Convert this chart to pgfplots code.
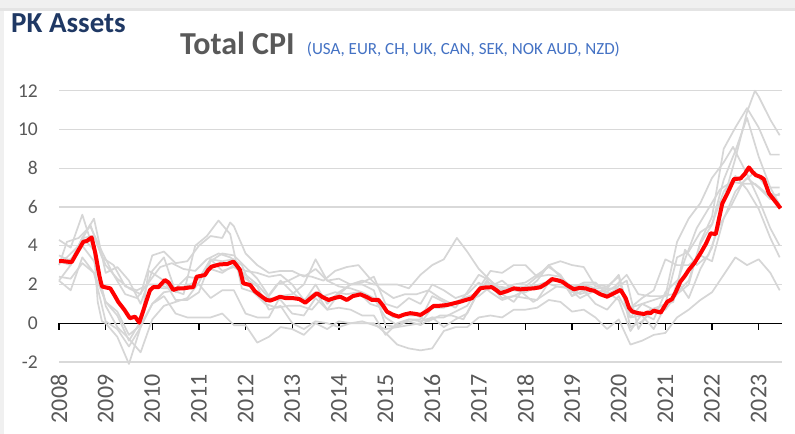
\documentclass[border=0pt]{standalone}
\usepackage{pgfplots}
\pgfplotsset{compat=1.18}
\usepackage{fontspec}
\setmainfont{Carlito}
\definecolor{gridgray}{RGB}{217,217,217}
\definecolor{linegray}{RGB}{214,214,214}
\definecolor{tickgray}{RGB}{89,89,89}
\definecolor{subblue}{RGB}{68,114,196}
\definecolor{navy}{RGB}{31,56,100}
\definecolor{bandgray}{RGB}{240,240,240}
\definecolor{bandline}{RGB}{228,228,228}
\begin{document}
\begin{tikzpicture}
\useasboundingbox (0bp,0bp) rectangle (795bp,434bp);
\fill[white] (0bp,0bp) rectangle (795bp,434bp);
\fill[bandgray] (0bp,426bp) rectangle (795bp,434bp);
\fill[bandline] (0bp,423bp) rectangle (795bp,426bp);
\fill[bandgray] (0bp,0bp) rectangle (4bp,423bp);
\node[anchor=base west, inner sep=0pt, text=navy, font=\fontsize{29bp}{32bp}\selectfont\bfseries] at (11bp,401bp) {PK Assets};
\node[anchor=base west, inner sep=0pt, text=tickgray, font=\fontsize{32bp}{36bp}\selectfont\bfseries] at (180bp,379.7bp) {Total CPI};
\node[anchor=base west, inner sep=0pt, text=subblue, font=\fontsize{17bp}{20bp}\selectfont] at (306.7bp,379.7bp) {(USA, EUR, CH, UK, CAN, SEK, NOK AUD, NZD)};
\begin{axis}[
  at={(59bp,72bp)}, anchor=south west,
  scale only axis, width=723bp, height=271.3bp,
  xmin=2008, xmax=2023.5, ymin=-2, ymax=12,
  axis line style={draw=none},
  major tick length=0pt,
  xtick={2008,2009,2010,2011,2012,2013,2014,2015,2016,2017,2018,2019,2020,2021,2022,2023},
  ytick={-2,0,2,4,6,8,10,12},
  ymajorgrids,
  grid style={color=gridgray, line width=1.3bp},
  /pgf/number format/assume math mode=true,
  /pgf/number format/1000 sep={},
  xticklabel style={rotate=90, anchor=east, text=tickgray, font=\fontsize{24bp}{28bp}\selectfont},
  yticklabel style={anchor=east, inner sep=0pt, text=tickgray, font=\fontsize{19.5bp}{23bp}\selectfont},
  xticklabel shift=9bp,
  yticklabel shift=21bp,
  clip=false,
  every axis plot/.append style={line join=round},
]
\draw[black, line width=1.3bp] (axis cs:2008,0) -- (axis cs:2023.5,0);
\pgfplotsinvokeforeach{2008,2009,2010,2011,2012,2013,2014,2015,2016,2017,2018,2019,2020,2021,2022,2023}{
  \draw[black, line width=1.3bp] (axis cs:#1,0) -- (axis cs:#1,-0.34);
}
% USA
\addplot[linegray, line width=1.7bp] coordinates {
(2008.0,4.3)(2008.25,3.9)(2008.5,5.6)(2008.75,3.7)(2008.83,1.1)(2008.92,0.1)
(2009.0,0.0)(2009.25,-0.7)(2009.5,-2.1)(2009.75,-0.2)(2009.92,2.7)
(2010.0,2.6)(2010.25,2.2)(2010.5,1.2)(2010.75,1.2)
(2011.0,1.6)(2011.25,3.2)(2011.5,3.6)(2011.75,3.5)
(2012.0,2.9)(2012.25,2.3)(2012.5,1.4)(2012.75,2.2)
(2013.0,1.6)(2013.25,1.1)(2013.5,2.0)(2013.75,1.0)
(2014.0,1.6)(2014.25,2.0)(2014.5,2.0)(2014.75,1.7)
(2015.0,-0.1)(2015.25,-0.2)(2015.5,0.2)(2015.75,0.2)
(2016.0,1.4)(2016.25,1.1)(2016.5,0.8)(2016.75,1.6)
(2017.0,2.5)(2017.25,2.2)(2017.5,1.7)(2017.75,2.0)
(2018.0,2.1)(2018.25,2.5)(2018.5,2.9)(2018.75,2.5)
(2019.0,1.6)(2019.25,2.0)(2019.5,1.8)(2019.75,1.8)
(2020.0,2.5)(2020.25,0.3)(2020.5,1.0)(2020.75,1.2)
(2021.0,1.4)(2021.25,4.2)(2021.5,5.4)(2021.75,6.2)
(2022.0,7.5)(2022.25,8.3)(2022.45,9.1)(2022.75,7.7)
(2023.0,6.4)(2023.25,4.9)(2023.45,4.0)};
% EUR
\addplot[linegray, line width=1.7bp] coordinates {
(2008.0,3.2)(2008.25,3.3)(2008.5,4.0)(2008.75,3.2)
(2009.0,1.1)(2009.25,0.6)(2009.5,-0.6)(2009.75,-0.1)
(2010.0,1.0)(2010.25,1.6)(2010.5,1.7)(2010.75,1.9)
(2011.0,2.3)(2011.25,2.8)(2011.5,2.6)(2011.75,3.0)
(2012.0,2.7)(2012.25,2.6)(2012.5,2.4)(2012.75,2.5)
(2013.0,2.0)(2013.25,1.2)(2013.5,1.6)(2013.75,0.7)
(2014.0,0.8)(2014.25,0.7)(2014.5,0.4)(2014.75,0.4)
(2015.0,-0.6)(2015.25,0.0)(2015.5,0.2)(2015.75,0.1)
(2016.0,0.3)(2016.25,-0.2)(2016.5,0.2)(2016.75,0.5)
(2017.0,1.7)(2017.25,1.9)(2017.5,1.3)(2017.75,1.4)
(2018.0,1.3)(2018.25,1.2)(2018.5,2.1)(2018.75,2.3)
(2019.0,1.4)(2019.25,1.7)(2019.5,1.0)(2019.75,0.7)
(2020.0,1.4)(2020.25,0.3)(2020.5,0.4)(2020.75,-0.3)
(2021.0,0.9)(2021.25,1.6)(2021.5,2.2)(2021.75,4.1)
(2022.0,5.1)(2022.25,7.4)(2022.5,8.9)(2022.75,10.6)
(2023.0,8.6)(2023.25,7.0)(2023.45,6.1)};
% CH
\addplot[linegray, line width=1.7bp] coordinates {
(2008.0,2.4)(2008.25,2.3)(2008.5,3.1)(2008.75,2.6)
(2009.0,0.1)(2009.25,-0.3)(2009.5,-1.2)(2009.75,-0.2)
(2010.0,1.0)(2010.25,1.4)(2010.5,0.5)(2010.75,0.3)
(2011.0,0.3)(2011.25,0.3)(2011.5,0.5)(2011.75,-0.1)
(2012.0,-0.1)(2012.25,-1.0)(2012.5,-0.7)(2012.75,-0.2)
(2013.0,-0.3)(2013.25,-0.6)(2013.5,0.0)(2013.75,-0.3)
(2014.0,0.1)(2014.25,0.0)(2014.5,0.0)(2014.75,0.0)
(2015.0,-0.5)(2015.25,-1.1)(2015.5,-1.3)(2015.75,-1.4)
(2016.0,-1.3)(2016.25,-0.4)(2016.5,-0.2)(2016.75,-0.2)
(2017.0,0.3)(2017.25,0.4)(2017.5,0.3)(2017.75,0.7)
(2018.0,0.7)(2018.25,0.8)(2018.5,1.2)(2018.75,1.1)
(2019.0,0.6)(2019.25,0.7)(2019.5,0.3)(2019.75,-0.3)
(2020.0,0.2)(2020.25,-1.1)(2020.5,-0.9)(2020.75,-0.6)
(2021.0,-0.5)(2021.25,0.3)(2021.5,0.7)(2021.75,1.2)
(2022.0,1.6)(2022.25,2.5)(2022.5,3.4)(2022.75,3.0)
(2023.0,3.3)(2023.25,2.6)(2023.45,1.7)};
% UK
\addplot[linegray, line width=1.7bp] coordinates {
(2008.0,2.2)(2008.25,3.0)(2008.5,4.4)(2008.75,4.5)
(2009.0,3.0)(2009.25,2.3)(2009.5,1.8)(2009.75,1.5)
(2010.0,3.5)(2010.25,3.7)(2010.5,3.1)(2010.75,3.2)
(2011.0,4.0)(2011.25,4.5)(2011.5,4.4)(2011.67,5.2)(2011.75,5.0)
(2012.0,3.6)(2012.25,3.0)(2012.5,2.6)(2012.75,2.7)
(2013.0,2.7)(2013.25,2.4)(2013.5,2.8)(2013.75,2.2)
(2014.0,1.9)(2014.25,1.8)(2014.5,1.6)(2014.75,1.3)
(2015.0,0.3)(2015.25,-0.1)(2015.5,0.1)(2015.75,-0.1)
(2016.0,0.3)(2016.25,0.3)(2016.5,0.6)(2016.75,0.9)
(2017.0,1.8)(2017.25,2.7)(2017.5,2.6)(2017.75,3.0)
(2018.0,3.0)(2018.25,2.4)(2018.5,2.5)(2018.75,2.4)
(2019.0,1.8)(2019.25,2.1)(2019.5,2.1)(2019.75,1.5)
(2020.0,1.8)(2020.25,0.8)(2020.5,1.0)(2020.75,0.7)
(2021.0,0.7)(2021.25,1.5)(2021.5,2.0)(2021.75,4.2)
(2022.0,5.5)(2022.25,9.0)(2022.5,10.1)(2022.75,11.1)
(2023.0,10.1)(2023.25,8.7)(2023.45,8.7)};
% CAN
\addplot[linegray, line width=1.7bp] coordinates {
(2008.0,2.2)(2008.25,1.7)(2008.5,3.4)(2008.75,2.6)
(2009.0,1.1)(2009.25,0.4)(2009.5,-0.9)(2009.75,0.1)
(2010.0,1.9)(2010.25,1.8)(2010.5,1.8)(2010.75,2.4)
(2011.0,2.3)(2011.25,3.3)(2011.5,2.7)(2011.75,2.9)
(2012.0,2.5)(2012.25,2.0)(2012.5,1.3)(2012.75,1.2)
(2013.0,0.5)(2013.25,0.4)(2013.5,1.3)(2013.75,0.7)
(2014.0,1.5)(2014.25,2.0)(2014.5,2.1)(2014.75,2.4)
(2015.0,1.0)(2015.25,0.8)(2015.5,1.3)(2015.75,1.0)
(2016.0,2.0)(2016.25,1.7)(2016.5,1.3)(2016.75,1.5)
(2017.0,2.1)(2017.25,1.6)(2017.5,1.2)(2017.75,1.4)
(2018.0,1.7)(2018.25,2.2)(2018.5,3.0)(2018.75,2.4)
(2019.0,1.4)(2019.25,2.0)(2019.5,2.0)(2019.75,1.9)
(2020.0,2.4)(2020.25,-0.2)(2020.5,0.1)(2020.75,0.7)
(2021.0,1.0)(2021.25,3.4)(2021.5,3.7)(2021.75,4.7)
(2022.0,5.1)(2022.25,6.8)(2022.5,7.6)(2022.75,6.9)
(2023.0,5.9)(2023.25,4.4)(2023.45,3.4)};
% SEK
\addplot[linegray, line width=1.7bp] coordinates {
(2008.0,3.5)(2008.25,3.2)(2008.5,4.4)(2008.75,3.8)
(2009.0,0.9)(2009.25,-0.2)(2009.5,-0.8)(2009.75,-1.5)
(2010.0,0.2)(2010.25,0.9)(2010.5,1.1)(2010.75,1.3)
(2011.0,2.1)(2011.25,3.3)(2011.5,3.2)(2011.75,3.3)
(2012.0,2.3)(2012.25,1.9)(2012.5,0.7)(2012.75,0.9)
(2013.0,0.0)(2013.25,-0.3)(2013.5,0.1)(2013.75,0.0)
(2014.0,-0.2)(2014.25,0.0)(2014.5,0.1)(2014.75,-0.1)
(2015.0,-0.3)(2015.25,-0.2)(2015.5,-0.1)(2015.75,0.0)
(2016.0,0.8)(2016.25,0.8)(2016.5,1.1)(2016.75,1.2)
(2017.0,1.4)(2017.25,1.9)(2017.5,2.2)(2017.75,1.7)
(2018.0,1.6)(2018.25,1.9)(2018.5,2.1)(2018.75,2.3)
(2019.0,1.9)(2019.25,2.0)(2019.5,1.7)(2019.75,1.6)
(2020.0,1.2)(2020.25,-0.4)(2020.5,0.5)(2020.75,0.2)
(2021.0,1.6)(2021.25,2.2)(2021.5,1.3)(2021.75,2.8)
(2022.0,3.9)(2022.25,6.4)(2022.5,8.5)(2022.75,10.9)(2022.92,12.0)
(2023.0,11.7)(2023.25,10.5)(2023.45,9.7)};
% NOK
\addplot[linegray, line width=1.7bp] coordinates {
(2008.0,3.2)(2008.25,3.0)(2008.5,4.4)(2008.75,5.4)
(2009.0,2.6)(2009.25,2.9)(2009.5,2.2)(2009.75,1.0)
(2010.0,2.7)(2010.25,3.4)(2010.5,1.6)(2010.75,2.0)
(2011.0,2.0)(2011.25,1.3)(2011.5,1.7)(2011.75,1.7)
(2012.0,0.5)(2012.25,0.3)(2012.5,0.3)(2012.75,1.4)
(2013.0,1.5)(2013.25,2.0)(2013.5,3.3)(2013.75,2.2)
(2014.0,2.3)(2014.25,2.0)(2014.5,2.2)(2014.75,2.0)
(2015.0,2.0)(2015.25,2.0)(2015.5,1.8)(2015.75,2.5)
(2016.0,3.0)(2016.25,3.3)(2016.53,4.4)(2016.75,3.7)
(2017.0,2.8)(2017.25,2.2)(2017.5,1.5)(2017.75,1.1)
(2018.0,1.9)(2018.25,2.4)(2018.5,3.0)(2018.75,3.2)
(2019.0,3.0)(2019.25,2.9)(2019.5,1.9)(2019.75,1.8)
(2020.0,1.8)(2020.25,0.8)(2020.5,1.3)(2020.75,1.7)
(2021.0,3.3)(2021.25,3.0)(2021.5,3.0)(2021.75,3.5)
(2022.0,3.2)(2022.25,5.4)(2022.5,6.8)(2022.75,7.5)
(2023.0,7.0)(2023.25,6.4)(2023.45,6.7)};
% AUD
\addplot[linegray, line width=1.7bp] coordinates {
(2008.0,3.0)(2008.17,4.2)(2008.42,4.4)(2008.67,5.0)(2008.92,3.7)
(2009.17,2.5)(2009.42,1.5)(2009.67,1.3)(2009.92,2.1)
(2010.17,2.9)(2010.42,3.1)(2010.67,2.8)(2010.92,2.7)
(2011.17,3.3)(2011.42,3.6)(2011.67,3.4)(2011.92,3.0)
(2012.17,1.6)(2012.42,1.2)(2012.67,2.0)(2012.92,2.2)
(2013.17,2.5)(2013.42,2.4)(2013.67,2.2)(2013.92,2.7)
(2014.17,2.9)(2014.42,3.0)(2014.67,2.3)(2014.92,1.7)
(2015.17,1.3)(2015.42,1.5)(2015.67,1.5)(2015.92,1.7)
(2016.17,1.3)(2016.42,1.0)(2016.67,1.3)(2016.92,1.5)
(2017.17,2.1)(2017.42,1.9)(2017.67,1.8)(2017.92,1.9)
(2018.17,1.9)(2018.42,2.1)(2018.67,1.9)(2018.92,1.8)
(2019.17,1.3)(2019.42,1.6)(2019.67,1.7)(2019.92,1.8)
(2020.17,2.2)(2020.42,-0.3)(2020.67,0.7)(2020.92,0.9)
(2021.17,1.1)(2021.42,3.8)(2021.67,3.0)(2021.92,3.5)
(2022.17,5.1)(2022.42,6.1)(2022.67,7.3)(2022.92,7.8)
(2023.17,7.0)(2023.45,7.0)};
% NZD
\addplot[linegray, line width=1.7bp] coordinates {
(2008.0,3.2)(2008.17,3.4)(2008.42,4.0)(2008.67,5.1)(2008.92,3.4)
(2009.17,3.0)(2009.42,1.9)(2009.67,1.7)(2009.92,2.0)
(2010.17,2.0)(2010.42,1.7)(2010.67,1.5)(2010.92,4.0)
(2011.17,4.5)(2011.42,5.3)(2011.67,4.6)(2011.92,1.8)
(2012.17,1.6)(2012.42,1.0)(2012.67,0.8)(2012.92,0.9)
(2013.17,0.9)(2013.42,0.7)(2013.67,1.4)(2013.92,1.6)
(2014.17,1.5)(2014.42,1.6)(2014.67,1.0)(2014.92,0.8)
(2015.17,0.3)(2015.42,0.4)(2015.67,0.4)(2015.92,0.1)
(2016.17,0.4)(2016.42,0.4)(2016.67,0.2)(2016.92,1.3)
(2017.17,2.2)(2017.42,1.7)(2017.67,1.9)(2017.92,1.6)
(2018.17,1.1)(2018.42,1.5)(2018.67,1.9)(2018.92,1.9)
(2019.17,1.5)(2019.42,1.7)(2019.67,1.5)(2019.92,1.9)
(2020.17,2.5)(2020.42,1.5)(2020.67,1.4)(2020.92,1.4)
(2021.17,1.5)(2021.42,3.3)(2021.67,4.9)(2021.92,5.9)
(2022.17,6.9)(2022.42,7.3)(2022.67,7.2)(2022.92,7.2)
(2023.17,6.7)(2023.45,6.6)};
% Average
\addplot[red, line width=4bp] coordinates {
(2008.0,3.2)(2008.1,3.2)(2008.27,3.15)(2008.4,3.7)(2008.52,4.2)(2008.6,4.25)(2008.7,4.43)(2008.78,3.6)(2008.87,2.4)(2008.92,1.9)
(2009.0,1.85)(2009.1,1.8)(2009.2,1.4)(2009.27,1.1)(2009.4,0.7)(2009.52,0.26)(2009.63,0.34)(2009.72,0.03)(2009.8,0.6)(2009.88,1.2)(2009.95,1.7)
(2010.02,1.86)(2010.13,1.86)(2010.27,2.23)(2010.35,2.1)(2010.45,1.72)(2010.55,1.8)(2010.67,1.8)(2010.8,1.85)(2010.88,1.86)(2010.95,2.4)
(2011.05,2.45)(2011.13,2.49)(2011.2,2.75)(2011.27,2.92)(2011.45,3.04)(2011.6,3.05)(2011.74,3.18)(2011.82,2.95)(2011.88,2.75)(2011.95,2.06)
(2012.1,1.97)(2012.2,1.65)(2012.35,1.37)(2012.45,1.2)(2012.53,1.17)(2012.62,1.25)(2012.74,1.37)(2012.85,1.3)
(2013.03,1.29)(2013.15,1.25)(2013.28,1.06)(2013.4,1.3)(2013.53,1.55)(2013.65,1.35)(2013.78,1.2)(2013.9,1.3)
(2014.03,1.37)(2014.17,1.2)(2014.3,1.4)(2014.46,1.49)(2014.6,1.35)(2014.71,1.2)(2014.85,1.2)(2014.95,0.9)
(2015.03,0.6)(2015.15,0.45)(2015.28,0.34)(2015.4,0.45)(2015.53,0.52)(2015.65,0.48)(2015.75,0.43)(2015.9,0.65)
(2016.03,0.89)(2016.15,0.9)(2016.32,0.94)(2016.45,1.02)(2016.6,1.11)(2016.72,1.2)(2016.85,1.29)
(2017.03,1.8)(2017.15,1.85)(2017.28,1.86)(2017.38,1.7)(2017.46,1.55)(2017.6,1.65)(2017.75,1.8)(2017.89,1.75)
(2018.05,1.78)(2018.18,1.8)(2018.32,1.86)(2018.45,2.05)(2018.57,2.28)(2018.68,2.22)(2018.79,2.14)(2018.9,1.95)
(2019.04,1.75)(2019.15,1.82)(2019.29,1.8)(2019.38,1.72)(2019.47,1.68)(2019.6,1.5)(2019.75,1.37)(2019.9,1.55)
(2020.04,1.72)(2020.15,1.29)(2020.22,0.8)(2020.29,0.6)(2020.42,0.52)(2020.54,0.48)(2020.62,0.55)(2020.68,0.52)(2020.75,0.65)(2020.9,0.55)
(2021.04,1.11)(2021.14,1.24)(2021.22,1.6)(2021.32,2.14)(2021.42,2.45)(2021.5,2.75)(2021.62,3.1)(2021.75,3.6)(2021.87,4.1)(2021.97,4.64)
(2022.08,4.6)(2022.15,5.4)(2022.22,6.18)(2022.33,6.7)(2022.47,7.44)(2022.61,7.47)(2022.7,7.7)(2022.79,8.04)(2022.87,7.8)(2022.94,7.64)
(2023.04,7.55)(2023.11,7.44)(2023.22,6.7)(2023.36,6.27)(2023.47,5.93)};
\end{axis}
\end{tikzpicture}
\end{document}
